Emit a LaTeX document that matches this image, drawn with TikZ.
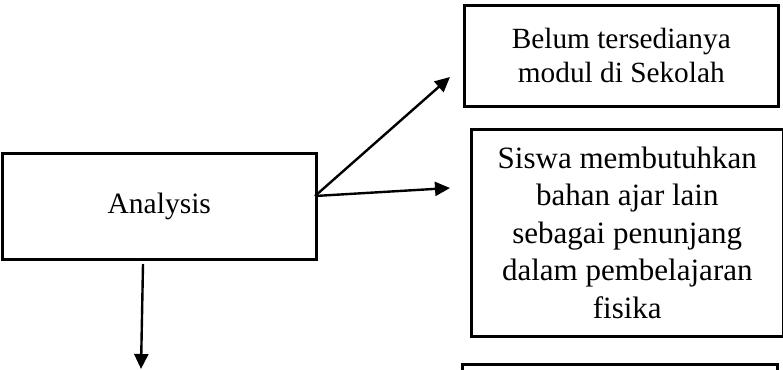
\documentclass[tikz,border=0pt]{standalone}
\usepackage{fontspec}
\setmainfont{Liberation Serif}
\usetikzlibrary{arrows.meta}
\begin{document}
\begin{tikzpicture}[x=1pt,y=-1pt,
  box/.style={draw=black, line width=2.6pt, align=center, inner sep=0pt, anchor=north west},
  conn/.style={line width=2.4pt, -{Triangle[length=15pt,width=14pt]}}]
\useasboundingbox (0,0) rectangle (783,369);
\clip (0,0) rectangle (783,369);
\node[box, minimum width=314pt, minimum height=106pt, font=\fontsize{29.5}{33}\selectfont] (an) at (1,152) {Analysis};
\node[box, minimum width=314pt, minimum height=101pt, font=\fontsize{29.3}{34}\selectfont] (b1) at (463,4) {Belum tersedianya\\modul di Sekolah};
\node[box, minimum width=312pt, minimum height=207pt, font=\fontsize{31}{37.5}\selectfont] (b2) at (470,128) {Siswa membutuhkan\\bahan ajar lain\\sebagai penunjang\\dalam pembelajaran\\fisika};
\node[box, minimum width=315pt, minimum height=60pt] (b3) at (461,363) {};
\coordinate (s1) at (315,196);
\coordinate (t1) at (450,77);
\coordinate (t2) at (450,188);
\coordinate (s3) at (143,264);
\coordinate (t3) at (141,369);
\draw[conn] (s1) -- (t1);
\draw[conn] (s1) -- (t2);
\draw[conn] (s3) -- (t3);
\end{tikzpicture}
\end{document}
